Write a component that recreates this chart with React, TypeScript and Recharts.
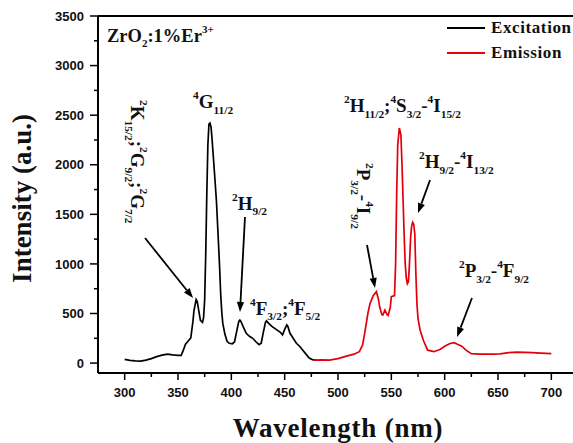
import React from "react";
import {
  LineChart,
  Line,
  XAxis,
  YAxis,
  ReferenceLine,
  ReferenceDot,
  Legend,
} from "recharts";

// excitation spectrum (black)
const excitationWl = [
  300, 305, 310, 315, 320, 325, 330, 335, 340, 345, 350, 353, 355, 357, 359, 362, 364, 365, 367, 368,
  369, 371, 373, 374, 375, 376, 377, 378, 379, 380, 381, 382, 383, 384, 386, 388, 389, 390, 391, 392,
  394, 396, 398, 401, 403, 405, 407, 408, 409, 411, 414, 417, 420, 423, 426, 428, 430, 432, 433, 435,
  438, 442, 446, 448, 450, 452, 453, 455, 458, 461, 464, 467, 470, 473, 476, 480,
];
const excitationInt = [
  37, 28, 22, 20, 30, 45, 65, 80, 90, 82, 78, 78, 130, 190, 215, 255, 420, 530, 640, 620,
  560, 430, 410, 460, 640, 1100, 1700, 2200, 2410, 2420, 2380, 2250, 2100, 1950, 1640, 1200, 970, 700, 520, 400,
  290, 220, 200, 195, 215, 320, 420, 433, 420, 370, 300, 270, 250, 215, 185, 200, 310, 410, 425, 400,
  370, 340, 310, 285, 340, 385, 370, 300, 250, 200, 170, 130, 90, 50, 35, 30,
];

// emission spectrum (red)
const emissionWl = [
  477, 485, 492, 500, 508, 515, 520, 523, 525, 528, 530, 533, 536, 538, 539, 541, 542, 544, 546, 547,
  549, 550, 553, 554, 555, 556, 557.5, 559, 560, 561, 562, 563, 564, 565, 566, 567, 568, 569, 570, 571,
  572, 573, 574, 575, 577, 580, 584, 590, 596, 600, 605, 609, 612, 616, 620, 625, 633, 645, 652, 660,
  668, 675, 682, 690, 700,
];
const emissionInt = [
  30, 32, 30, 45, 70, 90, 115, 180, 300, 500, 600, 680, 720, 640, 570, 490, 485, 535, 490, 480,
  560, 670, 680, 1000, 1700, 2200, 2370, 2300, 2000, 1650, 1300, 1000, 860, 800, 820, 1000, 1250, 1380, 1420, 1400,
  1300, 900, 600, 450, 330, 230, 130, 115, 140, 170, 198, 205, 190, 170, 130, 95, 90, 90, 92, 105,
  110, 108, 105, 100, 95,
];

const seriesNames = ["Excitation", "Emission"];
const xTicks = [300, 325, 350, 375, 400, 425, 450, 475, 500, 525, 550, 575, 600, 625, 650, 675, 700];
const yTicks = [0, 250, 500, 750, 1000, 1250, 1500, 1750, 2000, 2250, 2500, 2750, 3000, 3250, 3500];

// annotation texts: ^ = superscript, _ = subscript
const labelTexts = [
  "ZrO_2:1%Er^3+",
  "^2K_15/2;^2G_9/2;^2G_7/2",
  "^4G_11/2",
  "^2H_9/2",
  "^4F_3/2;^4F_5/2",
  "^2H_11/2;^4S_3/2-^4I_15/2",
  "^2P_3/2-^4I_9/2",
  "^2H_9/2-^4I_13/2",
  "^2P_3/2-^4F_9/2",
];
const labelX = [283.4, 305.9, 364.1, 400.6, 417.5, 505.6, 517.8, 575.9, 613.4];
const labelY = [3238, 2653, 2572, 1544, 485, 2532, 2018, 1967, 868];
const labelRot = [0, 90, 0, 0, 0, 0, 90, 0, 0];

// arrows: start -> tip
const arrowX1 = [319.1, 412.8, 527.2, 586.3, 625.6];
const arrowY1 = [1261, 1473, 1191, 1846, 656];
const arrowX2 = [364.1, 408.1, 534.7, 575, 611.6];
const arrowY2 = [656, 515, 757, 1513, 263];

const excitation = excitationWl.map((x, i) => ({ x, y: excitationInt[i] }));
const emission = emissionWl.map((x, i) => ({ x, y: emissionInt[i] }));

const SERIF = "'Liberation Serif', 'Times New Roman', serif";
const SANS = "'Liberation Sans', Arial, sans-serif";
const TICK = 8;
const GAP = 6;

function parts(s: string) {
  const out: { t: string; k: string }[] = [];
  const re = /\^([0-9+]+)|_([0-9/]+)|([^^_]+)/g;
  let m: RegExpExecArray | null;
  while ((m = re.exec(s))) {
    if (m[1]) out.push({ t: m[1], k: "sup" });
    else if (m[2]) out.push({ t: m[2], k: "sub" });
    else out.push({ t: m[3], k: "main" });
  }
  return out;
}

function richSpans(s: string, size: number) {
  let cur = 0;
  return parts(s).map((p, i) => {
    const target = p.k === "sup" ? -size * 0.47 : p.k === "sub" ? size * 0.29 : 0;
    const dy = target - cur;
    cur = target;
    return (
      <tspan key={i} dy={dy} fontSize={p.k === "main" ? size : size * 0.6}>
        {p.t}
      </tspan>
    );
  });
}

function XTick({ x, y, payload }: any) {
  const v = payload.value;
  const major = v % 50 === 0;
  const y0 = y - TICK - GAP;
  return (
    <g>
      <line x1={x} x2={x} y1={y0} y2={y0 + (major ? 7 : 4)} stroke="#000" strokeWidth={1.5} />
      {major && (
        <text x={x} y={y} dy="0.8em" textAnchor="middle" fontFamily={SANS} fontWeight="bold" fontSize={13} fill="#111">
          {v}
        </text>
      )}
    </g>
  );
}

function YTick({ x, y, payload }: any) {
  const v = payload.value;
  const major = v % 500 === 0;
  const x0 = x + TICK + GAP;
  return (
    <g>
      <line x1={x0} x2={x0 - (major ? 8 : 4)} y1={y} y2={y} stroke="#000" strokeWidth={1.5} />
      {major && (
        <text x={x} y={y} dy="0.36em" textAnchor="end" fontFamily={SANS} fontWeight="bold" fontSize={13} fill="#111">
          {v}
        </text>
      )}
    </g>
  );
}

function Arrow({ x1, y1, x2, y2 }: any) {
  const dx = x2 - x1;
  const dy = y2 - y1;
  const len = Math.hypot(dx, dy) || 1;
  const ux = dx / len;
  const uy = dy / len;
  const hl = 10;
  const hw = 3.6;
  const bx = x2 - ux * hl;
  const by = y2 - uy * hl;
  return (
    <g>
      <line x1={x1} y1={y1} x2={bx} y2={by} stroke="#000" strokeWidth={1.8} />
      <polygon
        points={`${x2},${y2} ${bx - uy * hw},${by + ux * hw} ${bx + uy * hw},${by - ux * hw}`}
        fill="#000"
      />
    </g>
  );
}

function LegendBox({ payload }: any) {
  const items = [...(payload || [])].sort(
    (a: any, b: any) => seriesNames.indexOf(a.value) - seriesNames.indexOf(b.value)
  );
  return (
    <div style={{ display: "flex", flexDirection: "column", gap: 5 }}>
      {items.map((e: any) => (
        <div key={e.value} style={{ display: "flex", alignItems: "center", height: 20 }}>
          <svg width={40} height={4}>
            <line x1={0} x2={38} y1={2} y2={2} stroke={e.color} strokeWidth={2} />
          </svg>
          <span
            style={{
              marginLeft: 4,
              fontFamily: SERIF,
              fontWeight: "bold",
              fontSize: 17,
              letterSpacing: 0.6,
              color: "#111",
            }}
          >
            {e.value}
          </span>
        </div>
      ))}
    </div>
  );
}

export default function App() {
  return (
    <div
      style={{
        position: "absolute",
        left: 0,
        top: 0,
        width: 573,
        height: 443,
        overflow: "hidden",
        background: "#fff",
      }}
    >
      <LineChart width={580} height={443} margin={{ top: 16, right: 2, bottom: 0, left: 0 }}>
        <XAxis
          type="number"
          dataKey="x"
          domain={[275, 725]}
          ticks={xTicks}
          interval={0}
          allowDataOverflow
          height={70}
          tickSize={TICK}
          tickMargin={GAP}
          tickLine={false}
          axisLine={{ stroke: "#000", strokeWidth: 2 }}
          tick={<XTick />}
          label={(p: any) => (
            <text
              x={p.viewBox.x + p.viewBox.width / 2}
              y={p.viewBox.y + 64}
              textAnchor="middle"
              fontFamily={SERIF}
              fontWeight="bold"
              fontSize={27}
              letterSpacing={0.8}
              fill="#111"
            >
              Wavelength (nm)
            </text>
          )}
        />
        <YAxis
          type="number"
          dataKey="y"
          domain={[-100, 3500]}
          ticks={yTicks}
          interval={0}
          allowDataOverflow
          width={98}
          tickSize={TICK}
          tickMargin={GAP}
          tickLine={false}
          axisLine={{ stroke: "#000", strokeWidth: 2 }}
          tick={<YTick />}
          label={(p: any) => {
            const cx = p.viewBox.x + 31;
            const cy = p.viewBox.y + p.viewBox.height / 2 + 4;
            return (
              <text
                x={cx}
                y={cy}
                transform={`rotate(-90 ${cx} ${cy})`}
                textAnchor="middle"
                fontFamily={SERIF}
                fontWeight="bold"
                fontSize={27}
                fill="#111"
              >
                Intensity (a.u.)
              </text>
            );
          }}
        />
        <ReferenceLine y={3500} stroke="#000" strokeWidth={2} ifOverflow="visible" />
        <ReferenceLine x={725} stroke="#000" strokeWidth={2} ifOverflow="visible" />

        <Line
          data={excitation}
          dataKey="y"
          name="Excitation"
          type="linear"
          stroke="#000"
          strokeWidth={1.7}
          dot={false}
          isAnimationActive={false}
        />
        <Line
          data={emission}
          dataKey="y"
          name="Emission"
          type="linear"
          stroke="#e3000b"
          strokeWidth={1.7}
          dot={false}
          isAnimationActive={false}
        />

        {arrowX1.map((x1, i) => (
          <ReferenceLine
            key={`arrow-${i}`}
            segment={[
              { x: x1, y: arrowY1[i] },
              { x: arrowX2[i], y: arrowY2[i] },
            ]}
            ifOverflow="visible"
            shape={(p: any) => <Arrow {...p} />}
          />
        ))}

        {labelTexts.map((t, i) => (
          <ReferenceDot
            key={`label-${i}`}
            x={labelX[i]}
            y={labelY[i]}
            r={0}
            ifOverflow="visible"
            shape={(p: any) => (
              <text
                x={p.cx}
                y={p.cy}
                transform={labelRot[i] ? `rotate(${labelRot[i]} ${p.cx} ${p.cy})` : undefined}
                fontFamily={SERIF}
                fontWeight="bold"
                fill="#111"
              >
                {richSpans(t, i === 0 ? 18.5 : 19)}
              </text>
            )}
          />
        ))}

        <Legend
          layout="vertical"
          align="center"
          verticalAlign="middle"
          content={<LegendBox />}
          wrapperStyle={{ top: 18, left: 447, width: "auto", margin: 0, padding: 0 }}
        />
      </LineChart>
    </div>
  );
}
